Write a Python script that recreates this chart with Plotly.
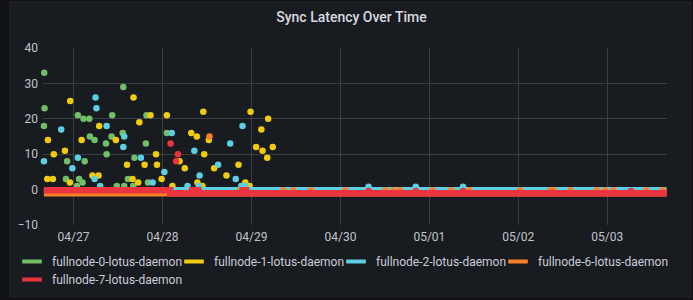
import plotly.graph_objects as go

# ---------------- data ----------------
series_names = ["fullnode-0-lotus-daemon", "fullnode-1-lotus-daemon", "fullnode-2-lotus-daemon",
                "fullnode-6-lotus-daemon", "fullnode-7-lotus-daemon"]
series_colors = ["#73BF69", "#F2CC0C", "#5CCFE3", "#F98129", "#EC3340"]

# fullnode-0 (sparse latency samples)
n0_time = ["2021-04-26 16:00", "2021-04-26 16:05", "2021-04-26 16:10", "2021-04-26 21:55", "2021-04-26 22:15",
           "2021-04-27 00:55", "2021-04-27 01:10", "2021-04-27 01:30", "2021-04-27 02:25", "2021-04-27 02:40",
           "2021-04-27 03:00", "2021-04-27 04:15", "2021-04-27 04:25", "2021-04-27 05:40", "2021-04-27 08:45",
           "2021-04-27 08:55", "2021-04-27 10:15", "2021-04-27 10:25", "2021-04-27 11:40", "2021-04-27 13:15",
           "2021-04-27 13:25", "2021-04-27 13:40", "2021-04-27 14:40", "2021-04-27 16:05", "2021-04-27 16:25",
           "2021-04-27 19:30", "2021-04-27 19:40", "2021-04-27 20:05", "2021-04-28 01:10"]
n0_value = [18, 33, 23, 3, 8,
            1, 21, 3, 2, 20,
            8, 20, 15, 14, 13,
            10, 15, 21, 1, 16,
            29, 1, 3, 1, 9,
            13, 21, 2, 16]

# fullnode-1
n1_time = ["2021-04-26 16:55", "2021-04-26 17:05", "2021-04-26 18:25", "2021-04-26 18:40", "2021-04-26 21:40",
           "2021-04-26 23:00", "2021-04-26 23:05", "2021-04-27 02:10", "2021-04-27 05:05", "2021-04-27 06:45",
           "2021-04-27 06:55", "2021-04-27 11:25", "2021-04-27 14:25", "2021-04-27 15:55", "2021-04-27 16:10",
           "2021-04-27 17:25", "2021-04-27 17:45", "2021-04-27 19:10", "2021-04-27 20:45", "2021-04-27 22:15",
           "2021-04-27 22:30", "2021-04-27 23:45", "2021-04-28 01:10", "2021-04-28 02:40", "2021-04-28 04:35",
           "2021-04-28 06:00", "2021-04-28 07:45", "2021-04-28 09:15", "2021-04-28 09:25", "2021-04-28 10:45",
           "2021-04-28 11:00", "2021-04-28 11:15", "2021-04-28 12:30", "2021-04-28 13:55", "2021-04-28 17:15",
           "2021-04-28 20:30", "2021-04-28 22:20", "2021-04-28 23:30", "2021-04-28 23:45", "2021-04-29 01:15",
           "2021-04-29 02:40", "2021-04-29 03:00", "2021-04-29 04:15", "2021-04-29 04:30", "2021-04-29 05:45"]
n1_value = [3, 14, 3, 10, 11,
            2, 25, 14, 4, 4,
            18, 14, 7, 3, 26,
            2, 19, 7, 21, 10,
            7, 3, 21, 1, 8,
            6, 16, 15, 2, 1,
            22, 10, 14, 6, 4,
            7, 2, 1, 22, 12,
            17, 11, 9, 20, 12]

# fullnode-2
n2_time = ["2021-04-26 16:00", "2021-04-26 20:40", "2021-04-26 23:40", "2021-04-27 01:10", "2021-04-27 05:40",
           "2021-04-27 05:55", "2021-04-27 06:10", "2021-04-27 07:10", "2021-04-27 08:55", "2021-04-27 13:25",
           "2021-04-27 13:40", "2021-04-27 18:10", "2021-04-27 21:20", "2021-04-28 00:30", "2021-04-28 02:30",
           "2021-04-28 06:45", "2021-04-28 08:35", "2021-04-28 09:50", "2021-04-28 10:00", "2021-04-28 15:00",
           "2021-04-28 18:15", "2021-04-28 19:45", "2021-04-28 21:15", "2021-04-28 21:35", "2021-04-28 22:20",
           "2021-04-30 07:35", "2021-04-30 20:20", "2021-05-01 09:05"]
n2_value = [8, 17, 6, 9, 3,
            26, 23, 1, 18, 12,
            15, 9, 2, 5, 16,
            1, 11, 1, 4, 7,
            13, 3, 1, 18, 1,
            0.8, 0.8, 0.8]
n2_base_time = ["2021-04-26 16:00", "2021-05-03 16:00"]
n2_base_value = [-0.2, -0.2]

# fullnode-6
n6_time = ["2021-04-28 12:40", "2021-04-28 21:00", "2021-04-29 08:35", "2021-04-29 11:15", "2021-04-29 16:05",
           "2021-04-30 01:15", "2021-04-30 12:10", "2021-04-30 14:20", "2021-04-30 16:05", "2021-05-01 00:50",
           "2021-05-01 05:55", "2021-05-01 10:50", "2021-05-02 00:30", "2021-05-02 08:35", "2021-05-02 09:30",
           "2021-05-02 14:05", "2021-05-02 21:10", "2021-05-02 23:25", "2021-05-03 01:40", "2021-05-03 10:30",
           "2021-05-03 15:00"]
n6_value = [15, -0.2, -0.2, -0.2, -0.2,
            -0.2, -0.2, -0.2, -0.2, -0.2,
            -0.2, -0.2, -0.2, -0.2, -0.2,
            -0.2, -0.2, -0.2, -0.2, -0.2,
            -0.2]
n6_base_time = ["2021-04-26 16:00", "2021-05-03 16:00"]
n6_base_value = [-1.0, -1.0]

# fullnode-7
n7_time = ["2021-04-28 02:10", "2021-04-28 03:40", "2021-04-28 04:10",
           "2021-04-30 07:35", "2021-04-30 20:20", "2021-05-01 09:05", "2021-05-03 06:25"]
n7_value = [13, 8, 10,
            -0.4, -0.4, -0.4, -0.4]
n7_base_time = ["2021-04-26 16:00", "2021-04-28 02:05", "2021-04-28 08:00", "2021-04-28 09:40",
                "2021-04-28 21:40", "2021-04-28 22:30", "2021-05-03 16:00"]
n7_base_value = [-0.2, -1.0, -0.2, -1.0, -0.2, -1.0, -1.0]

y_ticks = [-10, 0, 10, 20, 30, 40]
x_ticks = ["2021-04-27", "2021-04-28", "2021-04-29", "2021-04-30", "2021-05-01", "2021-05-02", "2021-05-03"]
x_range = ["2021-04-26 15:45", "2021-05-03 16:07"]

# ---------------- styles ----------------
PANEL_BG = "#181b1f"
OUTER_BG = "#111217"
GRID = "#3a3d43"
FONT = "Roboto, 'Noto Sans', sans-serif"
MARKER_SIZE = 6.5
W, H = 693, 300
# legend entry anchors (px in the 693x300 canvas): left edge, top edge
legend_slots = [(12, 247), (174, 247), (336, 247), (498, 247), (12, 265)]

series = [
    (n0_time, n0_value, None, None),
    (n1_time, n1_value, None, None),
    (n2_time, n2_value, n2_base_time, n2_base_value),
    (n6_time, n6_value, n6_base_time, n6_base_value),
    (n7_time, n7_value, n7_base_time, n7_base_value),
]

fig = go.Figure()

for name, color, (t, v, bt, bv) in zip(series_names, series_colors, series):
    if bt is not None:
        fig.add_trace(go.Scatter(
            x=bt, y=bv, mode="lines", line=dict(color=color, width=MARKER_SIZE, shape="hv"),
            name=name, legendgroup=name, showlegend=False, hoverinfo="skip"))
    fig.add_trace(go.Scatter(
        x=t, y=v, mode="markers", marker=dict(color=color, size=MARKER_SIZE, line=dict(width=0)),
        name=name, legendgroup=name, showlegend=False, cliponaxis=False))

# legend swatches (short bars like Grafana), one legend box per entry
legend_layouts = {}
for i, (name, color) in enumerate(zip(series_names, series_colors)):
    key = "legend" if i == 0 else f"legend{i + 1}"
    fig.add_trace(go.Scatter(
        x=[None], y=[None], mode="markers", name=name, legendgroup=name, legend=key,
        marker=dict(symbol="line-ew", size=14, color=color, line=dict(color=color, width=4))))
    lx, ly = legend_slots[i]
    legend_layouts[key] = dict(
        orientation="h", xref="container", yref="container", x=lx / W, xanchor="left",
        y=1 - ly / H, yanchor="top", bgcolor="rgba(0,0,0,0)",
        font=dict(family=FONT, size=12, color="#ccccdc"), itemsizing="trace")

fig.update_layout(
    width=W, height=H, autosize=False,
    margin=dict(l=43, r=26, t=48, b=75, autoexpand=False),
    paper_bgcolor=OUTER_BG, plot_bgcolor="rgba(0,0,0,0)",
    font=dict(family=FONT, color="#ccccdc", size=12),
    title=dict(text="Sync Latency Over Time", x=0.5072, xanchor="center", y=0.944, yanchor="middle",
               xref="container", yref="container",
               font=dict(family=FONT, size=14, color="#d8d9e0", weight=500)),
    showlegend=True,
    shapes=[dict(type="rect", xref="paper", yref="paper", layer="below",
                 x0=(10 - 43) / 624, x1=(691 - 43) / 624, y0=1 - (297 - 48) / 177, y1=1 + (48 - 2) / 177,
                 fillcolor=PANEL_BG, line=dict(color="#24272c", width=1))],
    **legend_layouts,
)

fig.update_xaxes(type="date", range=x_range, tickvals=x_ticks, tickformat="%m/%d",
                 showgrid=True, gridcolor=GRID, gridwidth=1, zeroline=False, showline=False,
                 ticks="", ticklabelstandoff=3,
                 tickfont=dict(family=FONT, size=12, color="#c2c3cb"), fixedrange=True)
fig.update_yaxes(range=[-10, 40], tickvals=y_ticks, showgrid=True, gridcolor=GRID, gridwidth=1,
                 zeroline=False, showline=False, ticks="", ticklabelstandoff=4,
                 tickfont=dict(family=FONT, size=12, color="#c2c3cb"), fixedrange=True)

fig.write_html("out.html")
